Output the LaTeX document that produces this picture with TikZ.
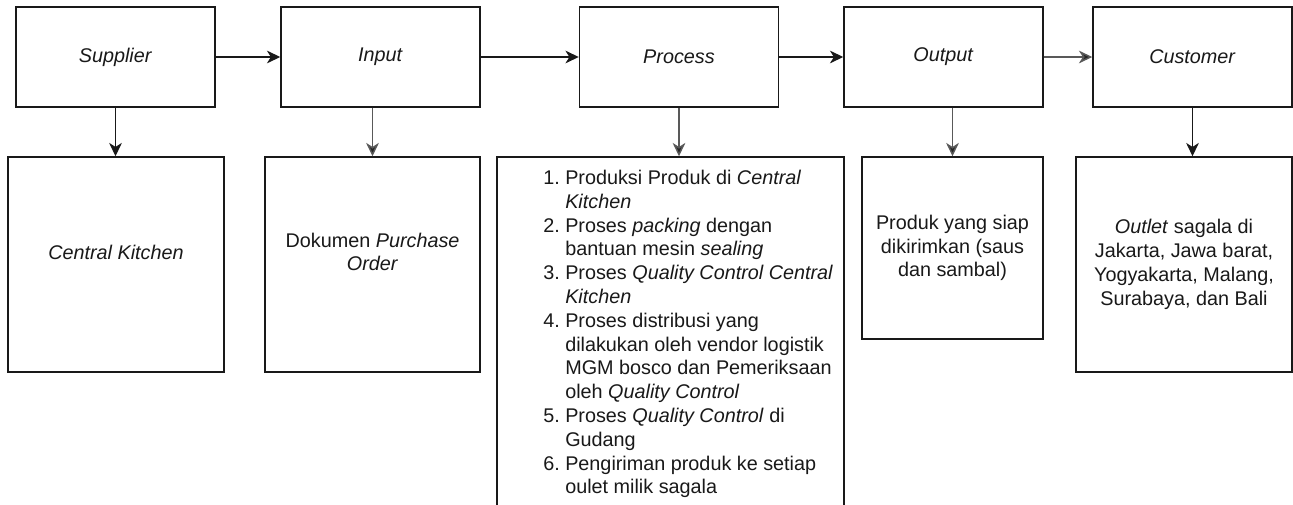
\documentclass[tikz,border=0pt]{standalone}
\usepackage{fontspec}
\setmainfont{Liberation Sans}
\usetikzlibrary{arrows.meta}
\newlength\upx
\setlength\upx{0.75pt}
\newcommand\itm[1]{\makebox[16.5pt][l]{#1}}
\newcommand\ind{\hspace*{16.5pt}}
\begin{document}
\begin{tikzpicture}[x=0.75pt,y=-0.75pt,
  box/.style={draw=black!90,line width=1.1pt,rectangle,inner sep=0pt,fill=white},
  topbox/.style={box,minimum width=199\upx,minimum height=100\upx},
  txt/.style={text=black!90,font=\fontsize{14.85pt}{17.85pt}\selectfont,align=center,inner sep=0pt},
  arr/.style={line width=1.1pt,draw=black!90,-{Stealth[length=10pt,width=9.5pt,inset=3pt]}},
  garr/.style={arr,draw=black!65,-{Stealth[length=10pt,width=9.5pt,inset=3pt,fill=black!85]}}
]
\useasboundingbox (0,0) rectangle (1293,504);
\clip (0,0) rectangle (1293,504);
\fill[white] (0,0) rectangle (1293,504);

% top row
\node[topbox,txt] (sup)  at (115.5,57) {\textit{Supplier}};
\node[topbox,txt] (inp)  at (380.5,57) {\textit{Input}};
\node[topbox,txt] (proc) at (679,57)   {\textit{Process}};
\node[topbox,txt] (out)  at (943.5,57) {\textit{Output}};
\node[topbox,txt] (cust) at (1192.5,57){\textit{Customer}};

% bottom row
\node[box,minimum width=216\upx,minimum height=215\upx] (ck) at (116,264.5) {};
\node[txt] (cktxt) at (116,252) {\textit{Central Kitchen}};
\node[box,minimum width=215\upx,minimum height=215\upx] (inb) at (372.5,264.5) {};
\node[txt] (inbtxt) at (372.5,252) {Dokumen \textit{Purchase}\\\textit{Order}};
\node[box,minimum width=347\upx,minimum height=363\upx] (procb) at (670.5,338.5) {};
\node[txt,align=left,anchor=west] (procbtxt) at (543,334) {%
\itm{1.}Produksi Produk di \textit{Central}\\
\ind\textit{Kitchen}\\
\itm{2.}Proses \textit{packing} dengan\\
\ind bantuan mesin \textit{sealing}\\
\itm{3.}Proses \textit{Quality Control Central}\\
\ind\textit{Kitchen}\\
\itm{4.}Proses distribusi yang\\
\ind dilakukan oleh vendor logistik\\
\ind MGM bosco dan Pemeriksaan\\
\ind oleh \textit{Quality Control}\\
\itm{5.}Proses \textit{Quality Control} di\\
\ind Gudang\\
\itm{6.}Pengiriman produk ke setiap\\
\ind oulet milik sagala};
\node[box,txt,minimum width=181\upx,minimum height=182\upx] (outb) at (952.5,248) {Produk yang siap\\dikirimkan (saus\\dan sambal)};
\node[box,txt,minimum width=216\upx,minimum height=215\upx] (custb) at (1184,264.5) {\textit{Outlet} sagala di\\Jakarta, Jawa barat,\\Yogyakarta, Malang,\\Surabaya, dan Bali};

% horizontal connectors
\draw[arr]  (sup.east)  -- (inp.west);
\draw[arr]  (inp.east)  -- (proc.west);
\draw[arr]  (proc.east) -- (out.west);
\draw[garr] (out.east)  -- (cust.west);

% vertical connectors
\draw[arr]  (sup.south)  -- (sup.south |- ck.north);
\draw[garr] (inb.north |- inp.south) -- (inb.north);
\draw[garr] (proc.south) -- (proc.south |- procb.north);
\draw[garr] (outb.north |- out.south) -- (outb.north);
\draw[arr]  (cust.south) -- (cust.south |- custb.north);
\end{tikzpicture}
\end{document}
